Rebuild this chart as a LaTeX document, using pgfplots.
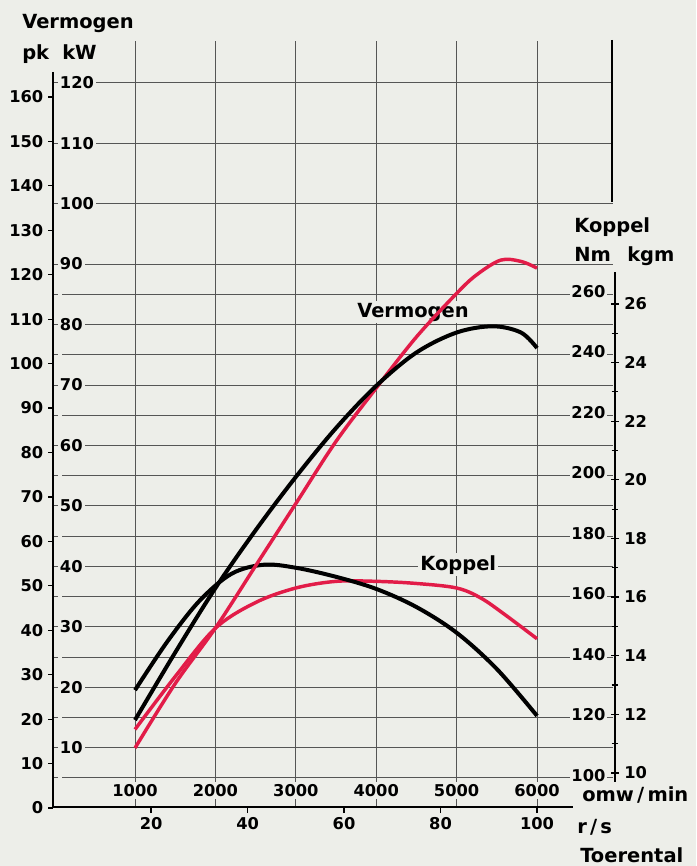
\documentclass[border=0pt]{standalone}
\usepackage{fontspec}
\setmainfont{DejaVu Sans}
\usepackage{pgfplots}
\pgfplotsset{compat=1.18}
\definecolor{bg}{RGB}{237,238,233}
\definecolor{cred}{RGB}{226,28,72}
\definecolor{gridc}{RGB}{85,85,85}
\newcommand\numsize{\fontsize{12.2}{14}\selectfont\bfseries}
\newcommand\titsize{\fontsize{14.6}{16}\selectfont\bfseries}
\pgfplotsset{base/.style={scale only axis, width=420pt, height=575.25pt,
  at={(39.75pt,-606pt)}, anchor=south west, xmin=-20, xmax=6945,
  axis line style={draw=none}, clip=false, scaled ticks=false,
  /pgf/number format/assume math mode=true, /pgf/number format/1000 sep={},
  tick label style={font=\numsize}}}
\begin{document}
\begin{tikzpicture}
\begin{scope}[x=0.75pt,y=-0.75pt]
\fill[bg] (0,0) rectangle (696,866);
\end{scope}
% grid + rpm + kW
\begin{axis}[base, ymin=0, ymax=126.9,
  xtick={1000,2000,...,6000}, xticklabels={1000,2000,3000,4000,5000,6000},
  ytick={10,20,...,120}, extra y ticks={5,15,...,85}, extra y tick labels={},
  extra tick style={grid=major},
  grid=major, grid style={gridc, line width=0.6pt},
  major tick length=0pt, xtick pos=bottom, ytick pos=left,
  xticklabel style={anchor=south, yshift=6.75pt, fill=bg, inner sep=1.5pt},
  yticklabel style={anchor=west, xshift=3.5pt, fill=bg, inner sep=1.5pt}]
\end{axis}
\begin{scope}[x=0.75pt,y=-0.75pt]
\node[font=\titsize, anchor=base west, fill=bg, inner sep=1.5pt] at (355,317) {Vermogen};
\node[font=\titsize, anchor=base west, fill=bg, inner sep=1.5pt] at (418,570) {Koppel};
\node[font=\titsize, anchor=base west, inner sep=0pt] at (22,29) {Vermogen};
\node[font=\titsize, anchor=base west, inner sep=0pt] at (22,60) {pk};
\node[font=\titsize, anchor=base west, inner sep=0pt] at (62,60) {kW};
\node[font=\titsize, anchor=base west, fill=bg, inner sep=1.5pt] at (572,233) {Koppel};
\node[font=\titsize, anchor=base west, fill=bg, inner sep=1.5pt] at (572,261) {Nm};
\node[font=\titsize, anchor=base west, fill=bg, inner sep=1.5pt] at (625,261) {kgm};
\node[font=\titsize, anchor=base west, inner sep=0pt] at (582,801) {omw\,/\,min};
\node[font=\titsize, anchor=base west, inner sep=0pt] at (577,833) {r\,/\,s};
\node[font=\titsize, anchor=base west, inner sep=0pt] at (580,862) {Toerental};
\end{scope}
% r/s axis
\begin{axis}[base, ymin=0, ymax=1, ytick=\empty,
  xtick={1200,2400,3600,4800,6000}, xticklabels={20,40,60,80,100},
  xtick pos=bottom, tick align=outside, major tick length=3.75pt,
  tick style={black, line width=0.9pt}]
\end{axis}
% kgm axis
\begin{axis}[scale only axis, width=0.5pt, height=382.5pt,
  at={(461.25pt,-586.5pt)}, anchor=south west, xmin=0, xmax=1, xtick=\empty,
  ymin=9.69, ymax=27.09, ytick={10,12,...,26}, minor ytick={11,13,...,25},
  axis line style={draw=none}, clip=false,
  /pgf/number format/assume math mode=true,
  tick label style={font=\numsize},
  ytick pos=left, yticklabel pos=right, tick align=center,
  major tick length=6pt, minor tick length=5pt,
  tick style={black, line width=0.9pt},
  yticklabel style={anchor=west}]
\end{axis}
\begin{scope}[x=0.75pt,y=-0.75pt]
\draw[line width=2.2pt] (53,72) -- (53,808);
\draw[line width=2.2pt] (52,807) -- (573,807);
\draw[line width=2pt] (612,40) -- (612,202);
\draw[line width=2pt] (615,272) -- (615,782);
\end{scope}
% torque (Nm)
\begin{axis}[base, ymin=90, ymax=343.8, xtick=\empty,
  ytick={100,120,...,260}, ytick pos=right, yticklabel pos=right,
  major tick length=0pt,
  yticklabel style={anchor=east, xshift=-4.5pt, yshift=2pt, fill=bg, inner sep=1pt}]
\addplot[cred, line width=2.6pt, smooth, tension=0.55] coordinates {
(1000,116) (1500,133.5) (2000,149.5) (2500,158) (3000,162.8) (3500,165)
(4000,165) (4500,164.3) (5000,162.8) (5300,159.5) (5600,154) (6000,146)};
\addplot[black, line width=3pt, smooth, tension=0.55] coordinates {
(1000,129) (1400,145) (1800,158.5) (2200,167.5) (2600,170.5) (3000,169.5)
(3500,166.5) (4000,162.5) (4500,156.5) (5000,148) (5500,136) (6000,120.5)};
\end{axis}
% power (pk)
\begin{axis}[base, ymin=0, ymax=172.6, xtick=\empty,
  ytick={0,10,...,160}, ytick pos=left, tick align=outside,
  major tick length=3.75pt, tick style={black, line width=0.9pt}]
\addplot[cred, line width=2.6pt, smooth, tension=0.55] coordinates {
(1000,13.5) (1500,28) (2000,40.5) (2500,54.5) (3000,68.5) (3500,82.5) (4000,94.5)
(4500,106) (5000,115.8) (5250,120) (5550,123.3) (5800,123) (6000,121.5)};
\addplot[black, line width=3pt, smooth, tension=0.55] coordinates {
(1000,19.8) (1500,35) (2000,49.5) (2500,62.5) (3000,74.5) (3500,85.5) (4000,95)
(4500,102.5) (5000,107) (5450,108.4) (5800,107) (6000,103.5)};
\end{axis}
\end{tikzpicture}
\end{document}
